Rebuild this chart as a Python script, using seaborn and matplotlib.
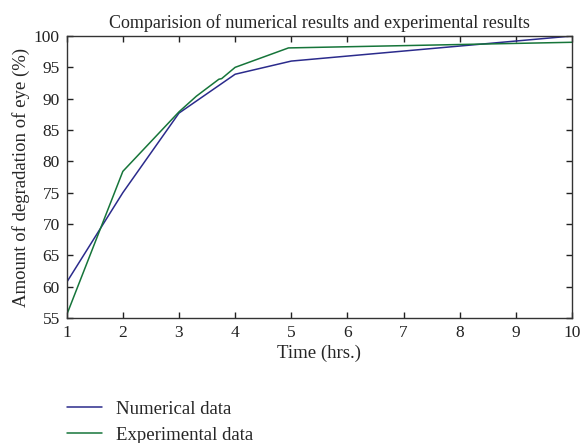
import matplotlib
matplotlib.use("Agg")
import matplotlib.pyplot as plt
import seaborn as sns
import pandas as pd

# values
num_time = [1, 2, 3, 4, 5, 10]
num_vals = [60.7, 75.0, 87.7, 93.9, 96.0, 100.0]

exp_time = [1, 2, 3, 3.31, 3.71, 3.76, 4, 4.95, 10]
exp_vals = [55.5, 78.4, 87.9, 90.4, 93.1, 93.2, 95.0, 98.1, 99.0]

df = pd.concat([
    pd.DataFrame({"time": num_time, "value": num_vals, "series": "Numerical data"}),
    pd.DataFrame({"time": exp_time, "value": exp_vals, "series": "Experimental data"}),
])

sns.set_style("ticks")
plt.rcParams["font.family"] = ["Liberation Serif", "DejaVu Serif"]

fig = plt.figure(figsize=(5.81, 4.43), dpi=100)
ax = fig.add_axes([0.1148, 0.2822, 0.8697, 0.6365])

sns.lineplot(data=df, x="time", y="value", hue="series", sort=False,
             palette={"Numerical data": "#2b2b8c", "Experimental data": "#16753a"},
             linewidth=1.1, ax=ax, estimator=None)

ax.set_xlim(1, 10)
ax.set_ylim(55, 100)
ax.set_xticks(range(1, 11))
ax.set_yticks(range(55, 101, 5))
ax.tick_params(direction="in", length=4.5, width=1, top=True, right=True,
               labelsize=12.5, colors="#222222", pad=5)
for s in ax.spines.values():
    s.set_linewidth(1)
    s.set_color("#333333")

ax.set_title("Comparision of numerical results and experimental results",
             fontsize=13, pad=6)
ax.set_xlabel("Time (hrs.)", fontsize=13.5, labelpad=3)
ax.set_ylabel("Amount of degradation of eye (%)", fontsize=13.5, labelpad=3)

handles, labels = ax.get_legend_handles_labels()
ax.legend_.remove()
fig.legend(handles, labels, loc="upper left", bbox_to_anchor=(0.103, 0.112),
           frameon=False, fontsize=13.5, handlelength=1.85, handletextpad=0.75,
           labelspacing=0.45, borderaxespad=0)

fig.savefig("out.png", dpi=100)
